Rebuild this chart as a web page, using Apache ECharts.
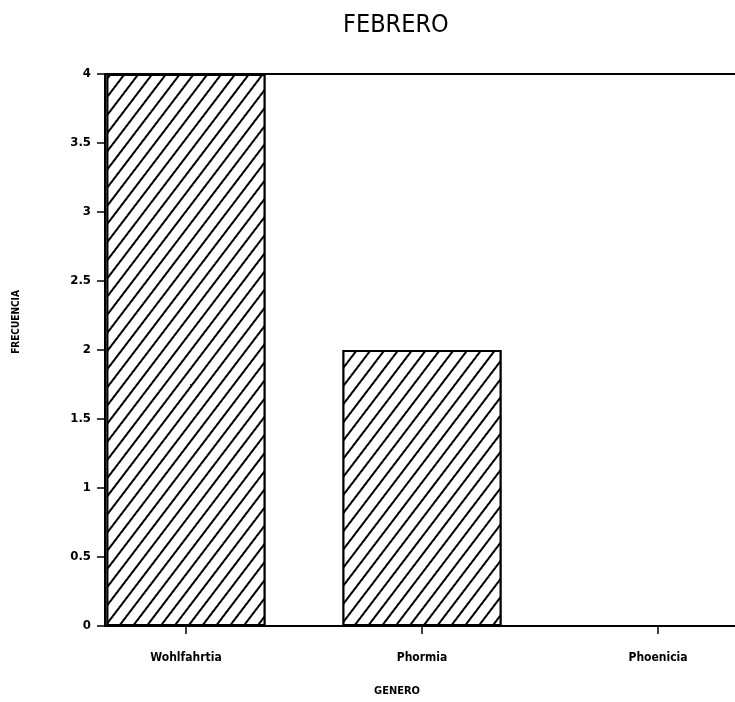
<!DOCTYPE html>
<html>
<head>
<meta charset="utf-8">
<script src="https://cdn.jsdelivr.net/npm/echarts@6/dist/echarts.min.js"></script>
<style>
html,body{margin:0;padding:0;background:#fff;}
#c{width:735px;height:702px;}
</style>
</head>
<body>
<div id="c"></div>
<script>
var titleText = 'FEBRERO';
var categories = ['Wohlfahrtia', 'Phormia', 'Phoenicia'];
var values = [4, 2, 0];
var yTicks = [0, 0.5, 1, 1.5, 2, 2.5, 3, 3.5, 4];
var yName = 'FRECUENCIA';
var xName = 'GENERO';

var FONT = "'DejaVu Sans Condensed', 'DejaVu Sans', sans-serif";
var chart = echarts.init(document.getElementById('c'), null, {renderer: 'canvas'});
var positions = categories.map(function (c, i) { return i; });

chart.setOption({
  backgroundColor: '#fff',
  animation: false,
  title: {
    text: titleText,
    left: 338,
    top: 8,
    textStyle: {fontFamily: FONT, fontSize: 25, fontWeight: 'normal', color: '#000'}
  },
  grid: {left: 105, right: 0, top: 74, bottom: 75},
  xAxis: [{
    type: 'value',
    min: -0.343,
    max: 2.326,
    position: 'bottom',
    axisLine: {show: true, onZero: false, lineStyle: {color: '#000', width: 2}},
    axisTick: {show: true, inside: false, length: 8, customValues: positions, lineStyle: {color: '#000', width: 1.5}},
    axisLabel: {
      customValues: positions,
      margin: 26,
      formatter: function (v) { return categories[Math.round(v)]; },
      fontFamily: FONT, fontSize: 12, fontWeight: 'bold', color: '#000'
    },
    splitLine: {show: false},
    name: xName,
    nameLocation: 'middle',
    nameGap: 60,
    nameTextStyle: {fontFamily: FONT, fontSize: 11, fontWeight: 'bold', color: '#000', padding: [0, 46, 0, 0]}
  }, {
    type: 'value',
    min: -0.343,
    max: 2.326,
    position: 'top',
    axisLine: {show: true, onZero: false, lineStyle: {color: '#000', width: 2}},
    axisTick: {show: false},
    axisLabel: {show: false},
    splitLine: {show: false}
  }],
  yAxis: {
    type: 'value',
    min: 0,
    max: 4,
    interval: 0.5,
    axisLine: {show: true, onZero: false, lineStyle: {color: '#000', width: 2}},
    axisTick: {show: true, length: 8, lineStyle: {color: '#000', width: 1.5}},
    axisLabel: {
      margin: 14,
      fontFamily: FONT, fontSize: 13, fontWeight: 'bold', color: '#000',
      formatter: function (v) { return yTicks.indexOf(v) >= 0 ? String(v) : ''; }
    },
    splitLine: {show: false},
    name: yName,
    nameLocation: 'middle',
    nameGap: 84,
    nameTextStyle: {fontFamily: FONT, fontSize: 10, fontWeight: 'bold', color: '#000', padding: [0, 0, 0, 56]}
  },
  series: [{
    type: 'bar',
    xAxisIndex: 0,
    barWidth: 159,
    data: categories.map(function (c, i) { return [i, values[i]]; }),
    itemStyle: {
      color: '#fff',
      borderColor: '#000',
      borderWidth: 2,
      decal: {
        symbol: 'rect',
        symbolSize: 1,
        dashArrayX: [1, 0],
        dashArrayY: [1.5, 9],
        rotation: -0.92,
        color: '#000',
        backgroundColor: '#fff'
      }
    }
  }]
});
</script>
</body>
</html>
